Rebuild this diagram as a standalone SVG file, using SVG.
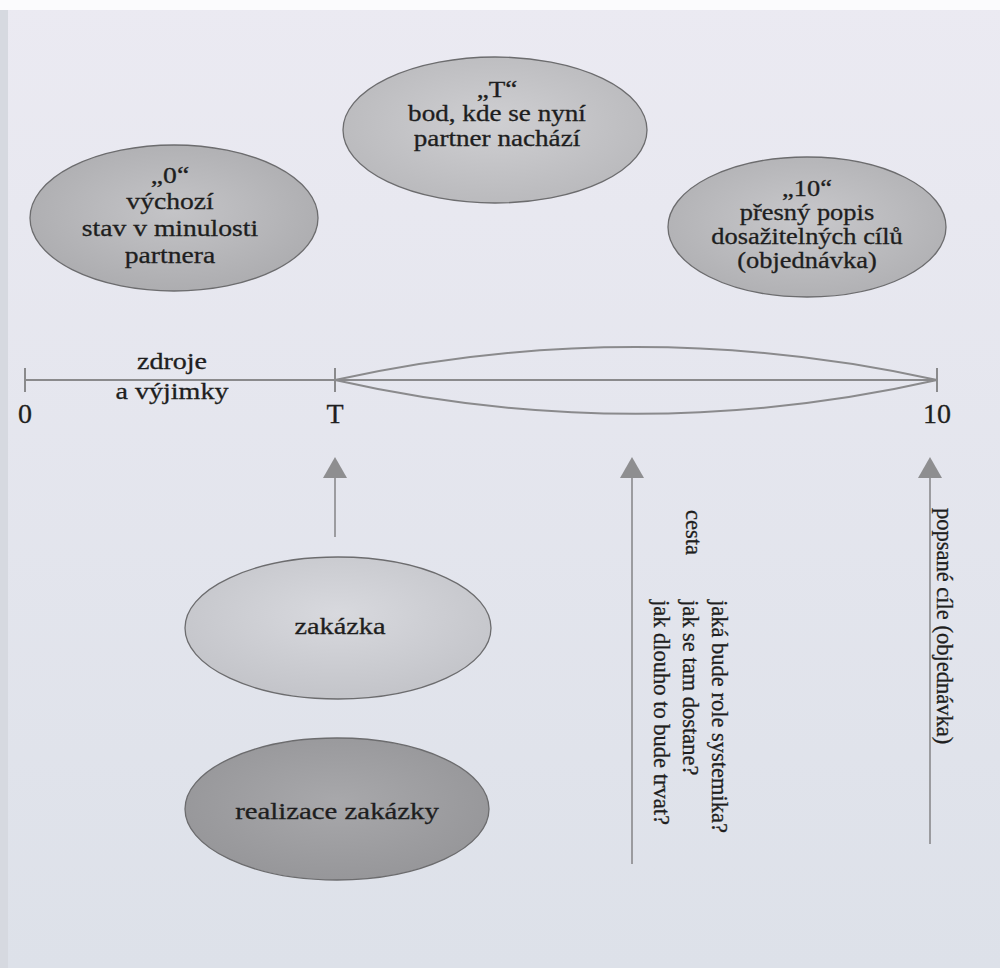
<svg xmlns="http://www.w3.org/2000/svg" width="1000" height="968" viewBox="0 0 1000 968">
  <defs>
    <linearGradient id="page" x1="0" y1="0" x2="0" y2="1">
      <stop offset="0" stop-color="#ebeaf2"/>
      <stop offset="1" stop-color="#dde1e9"/>
    </linearGradient>
    <radialGradient id="gLight" cx="0.5" cy="0.45" r="0.6">
      <stop offset="0" stop-color="#cfcfd2"/>
      <stop offset="1" stop-color="#b8b8bb"/>
    </radialGradient>
    <radialGradient id="gMid" cx="0.5" cy="0.45" r="0.6">
      <stop offset="0" stop-color="#c4c4c7"/>
      <stop offset="1" stop-color="#ababae"/>
    </radialGradient>
    <radialGradient id="gMid2" cx="0.5" cy="0.45" r="0.6">
      <stop offset="0" stop-color="#c8c8cb"/>
      <stop offset="1" stop-color="#afafb2"/>
    </radialGradient>
    <radialGradient id="gPale" cx="0.5" cy="0.4" r="0.6">
      <stop offset="0" stop-color="#d8d9de"/>
      <stop offset="1" stop-color="#c3c4c9"/>
    </radialGradient>
    <radialGradient id="gDark" cx="0.5" cy="0.45" r="0.6">
      <stop offset="0" stop-color="#a8a8ab"/>
      <stop offset="1" stop-color="#959598"/>
    </radialGradient>
    <path id="ahead" d="M-12,21 L0,0 L12,21 Z" fill="#8e8e90"/>
  </defs>
  <style>
    .node ellipse { stroke: #6c6c6e; stroke-width: 1.3; }
    text { font-family: "Liberation Serif", "Times New Roman", serif; fill: #1e1e20; stroke: #1e1e20; stroke-width: 0.3; }
    .t { font-size: 24px; text-anchor: middle; }
    .t2 { font-size: 23px; text-anchor: middle; }
    .lbl { font-size: 28px; text-anchor: middle; }
    .v { font-size: 22.5px; }
    .line { stroke: #8a8a8c; stroke-width: 2; fill: none; }
    .shaft { stroke: #8a8a8c; stroke-width: 1.6; fill: none; }
  </style>

  <rect x="0" y="0" width="1000" height="968" fill="url(#page)"/>
  <rect x="0" y="0" width="1000" height="10" fill="#fbfbfd"/>
  <rect x="0" y="10" width="8" height="958" fill="#d6d9e0"/>

  <g id="node-0" class="node">
    <ellipse cx="174" cy="218" rx="144" ry="73" fill="url(#gMid)"/>
    <text class="t" transform="translate(170,183) scale(1.15,1)"><tspan x="0" y="0">„0“</tspan><tspan x="0" dy="26">výchozí</tspan><tspan x="0" dy="27">stav v minulosti</tspan><tspan x="0" dy="27">partnera</tspan></text>
  </g>

  <g id="node-T" class="node">
    <ellipse cx="495" cy="130" rx="152" ry="73" fill="url(#gLight)"/>
    <text class="t2" transform="translate(497,97) scale(1.18,1)"><tspan x="0" y="0">„T“</tspan><tspan x="0" dy="24.5">bod, kde se nyní</tspan><tspan x="0" dy="24.5">partner nachází</tspan></text>
  </g>

  <g id="node-10" class="node">
    <ellipse cx="807" cy="227" rx="139" ry="70" fill="url(#gMid2)"/>
    <text class="t2" transform="translate(807,196) scale(1.15,1)"><tspan x="0" y="0">„10“</tspan><tspan x="0" dy="24">přesný popis</tspan><tspan x="0" dy="24">dosažitelných cílů</tspan><tspan x="0" dy="24">(objednávka)</tspan></text>
  </g>

  <g id="timeline">
    <line class="line" x1="25" y1="380" x2="937" y2="380"/>
    <line class="line" x1="25" y1="368" x2="25" y2="392"/>
    <line class="line" x1="335" y1="368" x2="335" y2="392"/>
    <line class="line" x1="937" y1="368" x2="937" y2="392"/>
    <path class="line" d="M335,380 A1390,1390 0 0 1 937,380 A1360,1360 0 0 1 335,380 Z" stroke-width="1.8"/>
    <text class="lbl" x="25" y="423">0</text>
    <text class="lbl" x="335" y="423">T</text>
    <text class="lbl" x="937" y="423">10</text>
    <text class="t" transform="translate(172,369) scale(1.17,1)"><tspan x="0" y="0">zdroje</tspan><tspan x="0" dy="30">a výjimky</tspan></text>
  </g>

  <g id="node-zakazka" class="node">
    <ellipse cx="338" cy="628" rx="153" ry="71" fill="url(#gPale)"/>
    <text class="t" transform="translate(340,634) scale(1.18,1)">zakázka</text>
  </g>

  <g id="node-realizace" class="node">
    <ellipse cx="337" cy="809" rx="152" ry="71" fill="url(#gDark)"/>
    <text class="t" transform="translate(337,819) scale(1.2,1)">realizace zakázky</text>
  </g>

  <g id="connectors">
    <line class="shaft" x1="335" y1="537" x2="335" y2="475"/>
    <use href="#ahead" x="335" y="457"/>
    <line class="shaft" x1="632" y1="864" x2="632" y2="475"/>
    <use href="#ahead" x="632" y="457"/>
    <line class="shaft" x1="930" y1="844" x2="930" y2="475"/>
    <use href="#ahead" x="930" y="457"/>
  </g>

  <g id="labels">
    <text class="v" transform="translate(686,510) rotate(90)">cesta</text>
    <text class="v" transform="translate(712,600) rotate(90)"><tspan x="0" y="0">jaká bude role systemika?</tspan><tspan x="0" dy="29">jak se tam dostane?</tspan><tspan x="0" dy="29">jak dlouho to bude trvat?</tspan></text>
    <text class="v" transform="translate(937,508) rotate(90)">popsané cíle (objednávka)</text>
  </g>
</svg>
